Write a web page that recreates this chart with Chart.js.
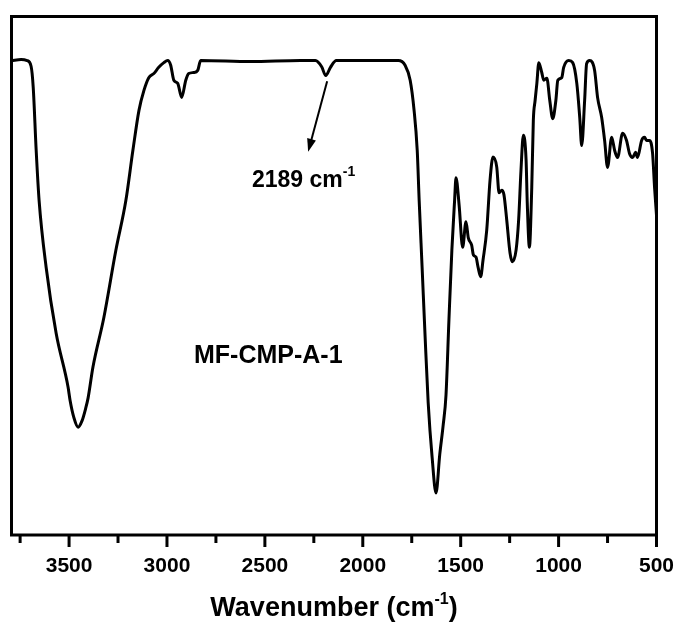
<!DOCTYPE html>
<html>
<head>
<meta charset="utf-8">
<script src="https://cdn.jsdelivr.net/npm/chart.js@4.4.0/dist/chart.umd.min.js"></script>
<style>
  html, body { margin: 0; padding: 0; background: #fff; }
  #wrap { width: 679px; height: 623px; }
</style>
</head>
<body>
<div id="wrap"><canvas id="ftir"></canvas></div>
<script>
// FTIR spectrum of MF-CMP-A-1
const wavenumbers = [3794, 3745, 3714, 3694, 3683, 3668, 3653, 3617, 3566, 3505, 3495, 3475, 3454, 3434, 3416, 3403, 3378, 3322, 3261, 3210, 3174, 3143, 3118, 3093, 3067, 3042, 3016, 2996, 2981, 2965, 2945, 2925, 2904, 2889, 2863, 2843, 2828, 2573, 2318, 2242, 2210, 2189, 2165, 2135, 1962, 1819, 1784, 1758, 1738, 1722, 1712, 1697, 1682, 1666, 1646, 1626, 1607, 1590, 1575, 1560, 1545, 1531, 1524, 1508, 1490, 1473, 1461, 1444, 1435, 1422, 1411, 1398, 1386, 1367, 1350, 1335, 1316, 1304, 1290, 1279, 1265, 1248, 1236, 1217, 1204, 1192, 1180, 1166, 1160, 1149, 1137, 1129, 1120, 1111, 1101, 1086, 1076, 1060, 1045, 1030, 1014, 1004, 984, 974, 948, 928, 907, 892, 882, 867, 857, 841, 816, 801, 780, 765, 750, 729, 714, 699, 673, 653, 638, 622, 607, 597, 576, 561, 551, 536, 520, 510, 500];
const transmittance = [91.5, 91.7, 91.5, 90.4, 86.3, 74.2, 64.5, 51.6, 38.9, 28.5, 26.0, 22.6, 20.8, 22.0, 24.3, 26.4, 32.4, 42.0, 54.9, 64.5, 74.2, 81.9, 85.7, 88.2, 89.0, 90.2, 91.1, 91.5, 90.6, 87.7, 87.1, 84.4, 87.7, 89.0, 89.2, 89.6, 91.5, 91.3, 91.5, 91.5, 90.3, 88.6, 90.2, 91.5, 91.5, 91.5, 90.6, 87.7, 81.9, 74.2, 64.5, 51.6, 38.5, 25.5, 15.0, 8.1, 15.5, 21.0, 27.0, 41.5, 55.0, 64.6, 68.9, 63.6, 55.5, 60.4, 57.3, 55.9, 54.0, 53.6, 51.6, 49.8, 53.0, 58.8, 68.5, 72.9, 71.0, 66.0, 66.5, 65.6, 60.8, 54.4, 52.7, 55.0, 60.8, 70.4, 77.1, 72.3, 64.0, 55.5, 67.1, 80.0, 83.8, 87.1, 91.1, 89.2, 87.7, 88.1, 83.8, 80.3, 83.8, 87.7, 88.2, 90.2, 91.5, 91.1, 87.1, 80.5, 75.1, 83.8, 90.9, 91.5, 89.6, 84.4, 80.5, 76.1, 70.9, 76.7, 74.2, 72.8, 77.5, 76.1, 73.6, 72.8, 73.8, 72.8, 76.1, 76.7, 76.1, 76.1, 73.6, 67.1, 61.7];

const labelTicks = [3500, 3000, 2500, 2000, 1500, 1000, 500];
const minorTicks = [3750, 3250, 2750, 2250, 1750, 1250, 750];

const sampleName = 'MF-CMP-A-1';
const peakNote = '2189';
const peakNoteAt = [2566, 67.1];
const sampleNameAt = [2862, 33.2];
const arrowFrom = [2182, 87.5];
const arrowTo = [2279, 73.9];

const FONT = '"Liberation Sans", Arial, sans-serif';

function drawSup(ctx, x, y, parts) {
    // parts: [text, size, raise]
    let cx = x;
    parts.forEach(([t, size, raise]) => {
        ctx.font = `bold ${size}px ${FONT}`;
        ctx.fillText(t, cx, y - raise);
        cx += ctx.measureText(t).width;
    });
    return cx - x;
}

function measureSup(ctx, parts) {
    let w = 0;
    parts.forEach(([t, size]) => {
        ctx.font = `bold ${size}px ${FONT}`;
        w += ctx.measureText(t).width;
    });
    return w;
}

const framePlugin = {
    id: 'framePlugin',
    afterDatasetsDraw(chart) {
        const { ctx, chartArea: a, scales: { x, y } } = chart;
        ctx.save();
        ctx.strokeStyle = '#000';
        ctx.fillStyle = '#000';
        ctx.lineWidth = 3;
        ctx.lineCap = 'butt';
        ctx.strokeRect(a.left, a.top, a.right - a.left, a.bottom - a.top);

        labelTicks.forEach(v => {
            const px = x.getPixelForValue(v);
            ctx.beginPath(); ctx.moveTo(px, a.bottom); ctx.lineTo(px, a.bottom + 12); ctx.stroke();
        });
        minorTicks.forEach(v => {
            const px = x.getPixelForValue(v);
            ctx.beginPath(); ctx.moveTo(px, a.bottom); ctx.lineTo(px, a.bottom + 8); ctx.stroke();
        });

        // arrow to the 2189 band
        const x1 = x.getPixelForValue(arrowFrom[0]), y1 = y.getPixelForValue(arrowFrom[1]);
        const x2 = x.getPixelForValue(arrowTo[0]), y2 = y.getPixelForValue(arrowTo[1]);
        const ang = Math.atan2(y2 - y1, x2 - x1);
        const head = 13, half = 4.5;
        ctx.lineWidth = 2;
        ctx.beginPath();
        ctx.moveTo(x1, y1);
        ctx.lineTo(x2 - Math.cos(ang) * head * 0.8, y2 - Math.sin(ang) * head * 0.8);
        ctx.stroke();
        ctx.beginPath();
        ctx.moveTo(x2, y2);
        ctx.lineTo(x2 - Math.cos(ang) * head - Math.sin(ang) * half, y2 - Math.sin(ang) * head + Math.cos(ang) * half);
        ctx.lineTo(x2 - Math.cos(ang) * head + Math.sin(ang) * half, y2 - Math.sin(ang) * head - Math.cos(ang) * half);
        ctx.closePath();
        ctx.fill();

        ctx.textBaseline = 'alphabetic';
        ctx.textAlign = 'left';
        drawSup(ctx, x.getPixelForValue(peakNoteAt[0]), y.getPixelForValue(peakNoteAt[1]),
            [[peakNote + ' cm', 23, 0], ['-1', 14, 11]]);

        ctx.font = `bold 25px ${FONT}`;
        ctx.fillText(sampleName, x.getPixelForValue(sampleNameAt[0]), y.getPixelForValue(sampleNameAt[1]));

        // axis title with superscript
        const parts = [['Wavenumber (cm', 27, 0], ['-1', 16, 12], [')', 27, 0]];
        const w = measureSup(ctx, parts);
        drawSup(ctx, (a.left + a.right) / 2 - w / 2, 616, parts);
        ctx.restore();
    }
};

const points = wavenumbers.map((wn, i) => ({ x: wn, y: transmittance[i] }));

new Chart(document.getElementById('ftir'), {
    type: 'line',
    data: {
        datasets: [{
            data: points,
            borderColor: '#000',
            borderWidth: 3,
            pointRadius: 0,
            fill: false,
            cubicInterpolationMode: 'monotone'
        }]
    },
    options: {
        responsive: true,
        maintainAspectRatio: false,
        animation: false,
        devicePixelRatio: 1,
        layout: { padding: { left: 11.5, right: 22.5, top: 16.5, bottom: 0 } },
        plugins: { legend: { display: false }, tooltip: { enabled: false } },
        scales: {
            x: {
                type: 'linear',
                reverse: true,
                min: 500,
                max: 3794,
                border: { display: false },
                grid: { display: false, drawTicks: false },
                afterBuildTicks: s => { s.ticks = labelTicks.map(v => ({ value: v })); },
                afterFit: s => { s.height = 88; s.paddingLeft = 0; s.paddingRight = 0; },
                ticks: {
                    padding: 19,
                    maxRotation: 0,
                    autoSkip: false,
                    color: '#000',
                    callback: v => String(v),
                    font: { family: FONT, size: 21, weight: 'bold' }
                }
            },
            y: {
                display: false,
                min: 0,
                max: 100
            }
        }
    },
    plugins: [framePlugin]
});
</script>
</body>
</html>
